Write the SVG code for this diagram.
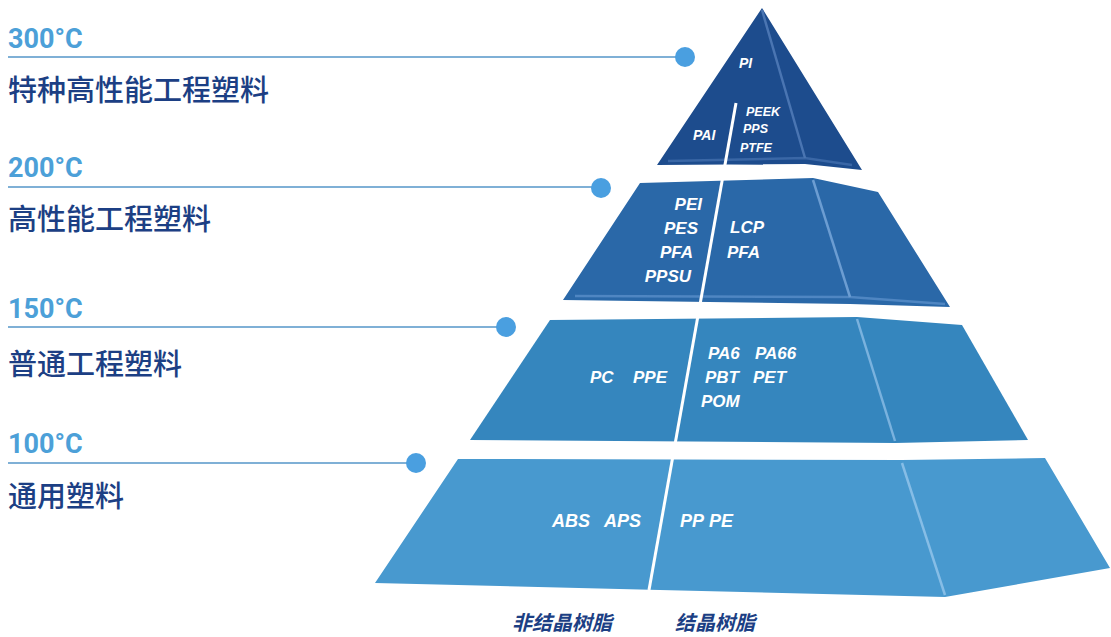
<svg xmlns="http://www.w3.org/2000/svg" width="1111" height="637" viewBox="0 0 1111 637">
<style>
.temp{font-family:Roboto,"Liberation Sans",sans-serif;font-weight:700;font-size:27px;fill:#4ca0d8}
.cat{font-family:"Noto Sans CJK SC","Noto Sans",sans-serif;font-weight:500;font-size:29px;fill:#1c3f84}
.lead{stroke:#7fb0d6;stroke-width:2;fill:none}
.dot{fill:#4a9fe0}
.lbl{font-family:"Liberation Sans",Arial,sans-serif;font-weight:700;font-style:italic;fill:#ffffff}
.edge{fill:none;stroke-width:2.5}
.bot{font-family:"Noto Sans CJK SC",sans-serif;font-weight:700;font-style:italic;font-size:20px;fill:#1c3f84}
</style>
<rect width="1111" height="637" fill="#ffffff"/>

<g id="connectors">
<line class="lead" x1="8" y1="57" x2="685" y2="57"/>
<line class="lead" x1="8" y1="187" x2="601" y2="187"/>
<line class="lead" x1="8" y1="327" x2="505" y2="327"/>
<line class="lead" x1="8" y1="463" x2="416" y2="463"/>
</g>

<g id="tier4">
<polygon points="458,459 902,460 1045,458 1110,568 945,597 660,590 375,583" fill="#4899cf"/>
<line class="edge" x1="902" y1="463" x2="945" y2="595" stroke="#86bde6"/>
<text class="lbl" font-size="18" x="552" y="527">ABS</text>
<text class="lbl" font-size="18" x="604" y="527">APS</text>
<text class="lbl" font-size="18" x="680" y="527">PP</text>
<text class="lbl" font-size="18" x="709" y="527">PE</text>
</g>

<g id="tier3">
<polygon points="550,320 857,317 962,325 1028,440 895,443 470,440" fill="#3586be"/>
<line class="edge" x1="857" y1="319" x2="895" y2="441" stroke="#7ab2de"/>
<text class="lbl" font-size="17" x="590" y="383">PC</text>
<text class="lbl" font-size="17" x="633" y="383">PPE</text>
<text class="lbl" font-size="17" x="708" y="359">PA6</text>
<text class="lbl" font-size="17" x="755" y="359">PA66</text>
<text class="lbl" font-size="17" x="705" y="383">PBT</text>
<text class="lbl" font-size="17" x="753" y="383">PET</text>
<text class="lbl" font-size="17" x="701" y="407">POM</text>
</g>

<g id="tier2">
<polygon points="640,183 813,178 878,192 950,307 850,304 563,300" fill="#2a68a8"/>
<polyline class="edge" points="575,296 850,297 945,304" stroke="#4f86c2" stroke-width="1.5"/>
<line class="edge" x1="813" y1="180" x2="850" y2="297" stroke="#6c9dd2"/>
<text class="lbl" font-size="17" x="702" y="210" text-anchor="end">PEI</text>
<text class="lbl" font-size="17" x="698" y="234" text-anchor="end">PES</text>
<text class="lbl" font-size="17" x="693" y="258" text-anchor="end">PFA</text>
<text class="lbl" font-size="17" x="691" y="282" text-anchor="end">PPSU</text>
<text class="lbl" font-size="17" x="730" y="233">LCP</text>
<text class="lbl" font-size="17" x="727" y="258">PFA</text>
</g>

<g id="tier1">
<polygon points="762,8 862,170 805,164 657,165" fill="#1d4c8d"/>
<polyline class="edge" points="668,161 805,158 852,165" stroke="#3a67a6" stroke-width="1.5"/>
<line class="edge" x1="762" y1="10" x2="805" y2="158" stroke="#4a75b2"/>
<text class="lbl" font-size="14" x="739" y="68">PI</text>
<text class="lbl" font-size="14" x="693" y="140">PAI</text>
<text class="lbl" font-size="12.5" x="746" y="116">PEEK</text>
<text class="lbl" font-size="12.5" x="743" y="133">PPS</text>
<text class="lbl" font-size="12.5" x="740" y="152">PTFE</text>
</g>

<g id="divider">
<line x1="736" y1="103" x2="649" y2="590" stroke="#ffffff" stroke-width="3"/>
</g>

<g id="dots">
<circle class="dot" cx="685" cy="57" r="10"/>
<circle class="dot" cx="601" cy="188" r="10"/>
<circle class="dot" cx="506" cy="327" r="10"/>
<circle class="dot" cx="416" cy="463" r="10"/>
</g>

<g id="label-300">
<text class="temp" x="8" y="48">300°C</text>
<text class="cat" x="8" y="101">特种高性能工程塑料</text>
</g>
<g id="label-200">
<text class="temp" x="8" y="177">200°C</text>
<text class="cat" x="8" y="230">高性能工程塑料</text>
</g>
<g id="label-150">
<text class="temp" x="8" y="318">150°C</text>
<text class="cat" x="8" y="375">普通工程塑料</text>
</g>
<g id="label-100">
<text class="temp" x="8" y="453">100°C</text>
<text class="cat" x="8" y="507">通用塑料</text>
</g>

<g id="axis-labels">
<text class="bot" x="512" y="630">非结晶树脂</text>
<text class="bot" x="675" y="630">结晶树脂</text>
</g>
</svg>
